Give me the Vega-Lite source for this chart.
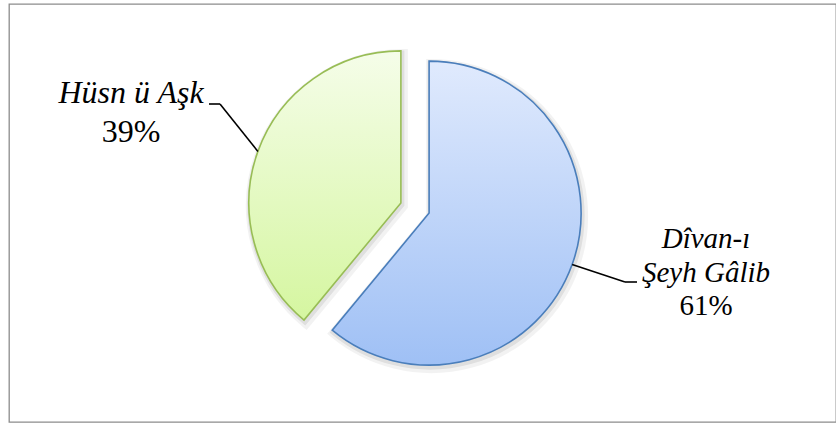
{
  "$schema": "https://vega.github.io/schema/vega-lite/v6.json",
  "width": 827,
  "height": 418,
  "autosize": "none",
  "padding": {"left": 9, "top": 4, "right": 0, "bottom": 1},
  "config": {
    "view": {"stroke": "#8c8c8c", "strokeWidth": 1.3}
  },
  "data": {
    "values": [
      {"work": "Dîvan-ı Şeyh Gâlib", "share": 61},
      {"work": "Hüsn ü Aşk", "share": 39}
    ]
  },
  "transform": [
    {"stack": "share", "groupby": [], "as": ["t0", "t1"]},
    {"calculate": "PI * (datum.t0 + datum.t1) / 100", "as": "mid"},
    {"calculate": "sin(datum.mid) > 0 ? 1 : -1", "as": "side"},
    {"calculate": "15 * sin(datum.mid)", "as": "cx"},
    {"calculate": "-15 * cos(datum.mid)", "as": "cy"},
    {"calculate": "167 * sin(datum.mid)", "as": "ex"},
    {"calculate": "-167 * cos(datum.mid)", "as": "ey"},
    {"calculate": "datum.side > 0 ? 210 : -195", "as": "kx"},
    {"calculate": "datum.side > 0 ? 74 : -104", "as": "ky"},
    {"calculate": "datum.side > 0 ? 222 : -206", "as": "lx"},
    {"calculate": "datum.side > 0 ? 291 : -284", "as": "tx"},
    {"calculate": "datum.side > 0 ? 40 : -105", "as": "ty"},
    {"calculate": "datum.side > 0 ? 107 : -66", "as": "py"},
    {"calculate": "replace(datum.work, '-ı ', '-ı\\n')", "as": "label"},
    {"calculate": "datum.share + '%'", "as": "pct"}
  ],
  "layer": [
    {
      "mark": {"type": "arc", "outerRadius": 152, "fill": null, "stroke": "#000", "strokeWidth": 10, "strokeOpacity": 0.05, "xOffset": 2, "yOffset": 3},
      "encoding": {
        "x": {"field": "cx", "type": "quantitative", "scale": {"domain": [-406, 421], "nice": false, "zero": false}, "axis": null},
        "y": {"field": "cy", "type": "quantitative", "scale": {"domain": [-204, 214], "nice": false, "zero": false, "reverse": true}, "axis": null},
        "theta": {"field": "t0", "type": "quantitative", "scale": {"domain": [0, 100]}},
        "theta2": {"field": "t1"}
      }
    },
    {
      "mark": {"type": "arc", "outerRadius": 152, "fill": null, "stroke": "#000", "strokeWidth": 5, "strokeOpacity": 0.08, "xOffset": 1, "yOffset": 2},
      "encoding": {
        "x": {"field": "cx", "type": "quantitative", "axis": null},
        "y": {"field": "cy", "type": "quantitative", "axis": null},
        "theta": {"field": "t0", "type": "quantitative"},
        "theta2": {"field": "t1"}
      }
    },
    {
      "mark": {"type": "arc", "outerRadius": 152, "strokeWidth": 1.6},
      "encoding": {
        "x": {"field": "cx", "type": "quantitative", "axis": null},
        "y": {"field": "cy", "type": "quantitative", "axis": null},
        "theta": {"field": "t0", "type": "quantitative"},
        "theta2": {"field": "t1"},
        "fill": {
          "condition": {
            "test": "datum.side > 0",
            "value": {"gradient": "linear", "x1": 0, "y1": 0, "x2": 0, "y2": 1, "stops": [{"offset": 0, "color": "#e0eafd"}, {"offset": 1, "color": "#9fc0f5"}]}
          },
          "value": {"gradient": "linear", "x1": 0, "y1": 0, "x2": 0, "y2": 1, "stops": [{"offset": 0, "color": "#f5fde9"}, {"offset": 1, "color": "#d5f6a0"}]}
        },
        "stroke": {"condition": {"test": "datum.side > 0", "value": "#4a7ebb"}, "value": "#98bd55"}
      }
    },
    {
      "mark": {"type": "rule", "color": "#000", "strokeWidth": 1.6},
      "encoding": {
        "x": {"field": "ex", "type": "quantitative", "axis": null},
        "y": {"field": "ey", "type": "quantitative", "axis": null},
        "x2": {"field": "kx"},
        "y2": {"field": "ky"}
      }
    },
    {
      "mark": {"type": "rule", "color": "#000", "strokeWidth": 1.6},
      "encoding": {
        "x": {"field": "kx", "type": "quantitative", "axis": null},
        "y": {"field": "ky", "type": "quantitative", "axis": null},
        "x2": {"field": "lx"},
        "y2": {"field": "ky"}
      }
    },
    {
      "mark": {"type": "text", "font": "Liberation Serif", "fontStyle": "italic", "align": "center", "baseline": "alphabetic", "lineBreak": "\n", "lineHeight": 34, "color": "#000"},
      "encoding": {
        "x": {"field": "tx", "type": "quantitative", "axis": null},
        "y": {"field": "ty", "type": "quantitative", "axis": null},
        "text": {"field": "label"},
        "size": {"condition": {"test": "datum.side > 0", "value": 29}, "value": 32}
      }
    },
    {
      "mark": {"type": "text", "font": "Liberation Serif", "align": "center", "baseline": "alphabetic", "color": "#000"},
      "encoding": {
        "x": {"field": "tx", "type": "quantitative", "axis": null},
        "y": {"field": "py", "type": "quantitative", "axis": null},
        "text": {"field": "pct"},
        "size": {"condition": {"test": "datum.side > 0", "value": 29}, "value": 32}
      }
    }
  ]
}
